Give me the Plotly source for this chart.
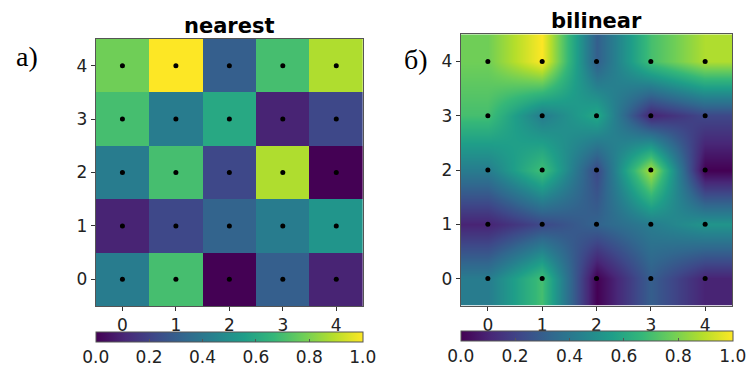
import plotly.graph_objects as go

# data: rows y=0..4, columns x=0..4
x_vals = [0, 1, 2, 3, 4]
y_vals = [0, 1, 2, 3, 4]
row_y0 = [0.42, 0.70, 0.00, 0.30, 0.10]
row_y1 = [0.10, 0.22, 0.32, 0.42, 0.52]
row_y2 = [0.42, 0.70, 0.22, 0.88, 0.00]
row_y3 = [0.70, 0.42, 0.60, 0.10, 0.22]
row_y4 = [0.78, 1.00, 0.30, 0.70, 0.88]
z = [row_y0, row_y1, row_y2, row_y3, row_y4]
cbar_ticks = [0.0, 0.2, 0.4, 0.6, 0.8, 1.0]
titles = ["nearest", "bilinear"]
panel_labels = ["а)", "б)"]

W, H = 748, 367
fig = go.Figure()

panels = [
    dict(x0=95.7, x1=363.0, y0=39.0, y1=306.0, smooth=False, lab=(27, 56), cb_y=332),
    dict(x0=460.7, x1=732.3, y0=34.3, y1=305.7, smooth="best", lab=(416, 59), cb_y=331),
]

xs = [xv for yv in y_vals for xv in x_vals]
ys = [yv for yv in y_vals for xv in x_vals]

for i, p in enumerate(panels):
    sfx = "" if i == 0 else "2"
    fig.add_trace(go.Heatmap(
        x=x_vals, y=y_vals, z=z, colorscale="Viridis", zmin=0, zmax=1,
        zsmooth=p["smooth"], xaxis="x" + sfx, yaxis="y" + sfx, hoverinfo="skip",
        colorbar=dict(
            orientation="h", x=p["x0"] / W, xanchor="left", y=1 - p["cb_y"] / H, yanchor="top",
            lenmode="pixels", len=p["x1"] - p["x0"], thickness=10, xpad=0, ypad=0,
            outlinewidth=1, outlinecolor="#555555",
            tickvals=cbar_ticks, ticktext=[f"{v:.1f}" for v in cbar_ticks],
            ticks="inside", ticklen=3, tickcolor="#555555",
            tickfont=dict(family="DejaVu Sans", size=17, color="#222222"),
        ),
    ))
    fig.add_trace(go.Scatter(
        x=xs, y=ys, mode="markers", marker=dict(color="black", size=5),
        xaxis="x" + sfx, yaxis="y" + sfx, hoverinfo="skip", showlegend=False,
    ))
    ax = dict(
        range=[-0.5, 4.5], tickvals=x_vals, ticks="outside", ticklen=4, tickcolor="#333333",
        showline=True, linecolor="#555555", linewidth=1, mirror=True, showgrid=False, zeroline=False,
        tickfont=dict(family="DejaVu Sans", size=17, color="#222222"),
    )
    fig.layout["xaxis" + sfx] = dict(ax, domain=[p["x0"] / W, p["x1"] / W], anchor="y" + sfx)
    fig.layout["yaxis" + sfx] = dict(ax, domain=[1 - p["y1"] / H, 1 - p["y0"] / H], anchor="x" + sfx)
    fig.add_annotation(
        text="<b>" + titles[i] + "</b>", x=(p["x0"] + p["x1"]) / 2 / W, y=1 - (p["y0"] + 1) / H,
        xref="paper", yref="paper", xanchor="center", yanchor="bottom", showarrow=False,
        font=dict(family="DejaVu Sans", size=21, color="black"),
    )
    fig.add_annotation(
        text=panel_labels[i], x=p["lab"][0] / W, y=1 - p["lab"][1] / H,
        xref="paper", yref="paper", xanchor="center", yanchor="middle", showarrow=False,
        font=dict(family="Liberation Serif", size=28, color="black"),
    )

fig.update_layout(
    width=W, height=H, margin=dict(l=0, r=0, t=0, b=0, autoexpand=False),
    paper_bgcolor="white", plot_bgcolor="white", showlegend=False,
)
fig.write_html(
    "out.html",
    config={"displayModeBar": False},
    post_script="document.body.style.margin='0';document.body.style.overflow='hidden';",
)
